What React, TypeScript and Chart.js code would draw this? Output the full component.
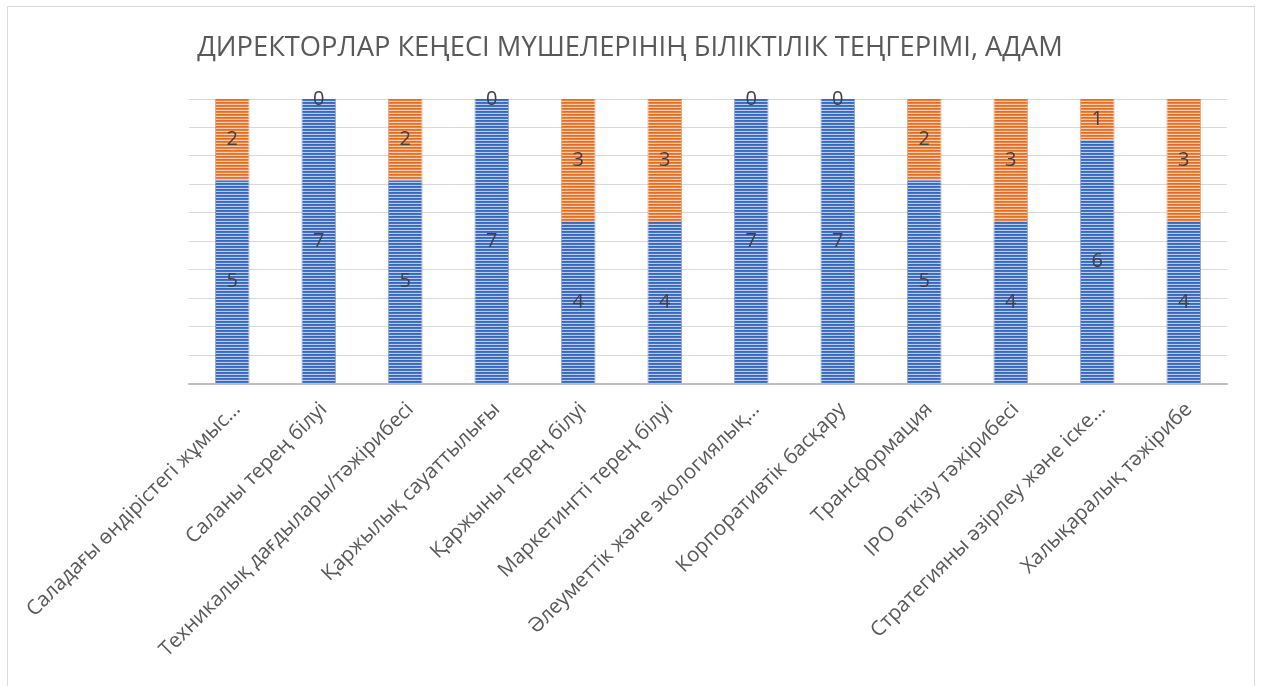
import React, { useEffect, useRef } from "react";
import { Chart, registerables } from "chart.js";

Chart.register(...registerables);

const categories = [
  "Саладағы өндірістегі жұмыс…",
  "Саланы терең білуі",
  "Техникалық дағдылары/тәжірибесі",
  "Қаржылық сауаттылығы",
  "Қаржыны терең білуі",
  "Маркетингті терең білуі",
  "Әлеуметтік және экологиялық…",
  "Корпоративтік басқару",
  "Трансформация",
  "IPO өткізу тәжірибесі",
  "Стратегияны әзірлеу және іске…",
  "Халықаралық тәжірибе",
];
const blueValues = [5, 7, 5, 7, 4, 4, 7, 7, 5, 4, 6, 4];
const orangeValues = [2, 0, 2, 0, 3, 3, 0, 0, 2, 3, 1, 3];
const gridTicks = [0, 0.7, 1.4, 2.1, 2.8, 3.5, 4.2, 4.9, 5.6, 6.3, 7];
const titleText = "ДИРЕКТОРЛАР КЕҢЕСІ МҮШЕЛЕРІНІҢ БІЛІКТІЛІК ТЕҢГЕРІМІ, АДАМ";

const FONT = "'Open Sans', 'Noto Sans', sans-serif";

function makePattern(rows: string[]): CanvasPattern | string {
  const c = document.createElement("canvas");
  c.width = 4;
  c.height = rows.length;
  const g = c.getContext("2d");
  if (!g) return rows[0];
  rows.forEach((col, i) => {
    g.fillStyle = col;
    g.fillRect(0, i, 4, 1);
  });
  const p = g.createPattern(c, "repeat");
  return p || rows[0];
}

const labelPlugin = {
  id: "segLabels",
  afterDatasetsDraw(chart: any) {
    const ctx = chart.ctx;
    ctx.save();
    ctx.font = `20px ${FONT}`;
    ctx.fillStyle = "#404040";
    ctx.textAlign = "center";
    ctx.textBaseline = "middle";
    chart.data.datasets.forEach((ds: any, di: number) => {
      const meta = chart.getDatasetMeta(di);
      meta.data.forEach((el: any, i: number) => {
        const v = ds.data[i];
        const y = (el.y + el.base) / 2;
        ctx.fillText(String(v), el.x, y);
      });
    });
    ctx.restore();
  },
};

const titlePlugin = {
  id: "pageTitle",
  afterDraw(chart: any) {
    const ctx = chart.ctx;
    ctx.save();
    ctx.font = `27.3px ${FONT}`;
    ctx.fillStyle = "#595959";
    ctx.textAlign = "center";
    ctx.textBaseline = "middle";
    ctx.fillText(titleText, 630, 48);
    ctx.restore();
  },
};

export default function App() {
  const ref = useRef<HTMLCanvasElement>(null);
  useEffect(() => {
    if (!ref.current) return;
    const bluePat = makePattern(["#3A68BD", "#4473C6", "#BACDEE"]);
    const orangePat = makePattern(["#E36F25", "#EC8140", "#F9CDAE"]);
    const chart = new Chart(ref.current, {
      type: "bar",
      data: {
        labels: categories,
        datasets: [
          {
            label: "blue",
            data: blueValues,
            backgroundColor: bluePat as any,
            borderColor: "rgba(47,85,151,0.5)",
            borderWidth: { left: 1, right: 1, top: 0, bottom: 0 } as any,
            barPercentage: 0.4,
            categoryPercentage: 1,
          },
          {
            label: "orange",
            data: orangeValues,
            backgroundColor: orangePat as any,
            borderColor: "rgba(197,90,17,0.5)",
            borderWidth: { left: 1, right: 1, top: 0, bottom: 0 } as any,
            barPercentage: 0.4,
            categoryPercentage: 1,
          },
        ],
      },
      options: {
        responsive: false,
        animation: false,
        layout: { padding: { left: 189, right: 34, top: 99, bottom: 18 } },
        plugins: {
          legend: { display: false },
          tooltip: { enabled: false },
          title: { display: false },
        },
        scales: {
          x: {
            stacked: true,
            grid: { display: false, drawTicks: false },
            border: { display: true, color: "#BFBFBF", width: 2 },
            ticks: {
              color: "#595959",
              font: { family: FONT, size: 20.5 },
              maxRotation: 45,
              minRotation: 45,
              autoSkip: false,
              padding: 14,
              labelOffset: 5,
            },
          },
          y: {
            stacked: true,
            min: 0,
            max: 7,
            afterBuildTicks: (scale: any) => {
              scale.ticks = gridTicks.map((v) => ({ value: v }));
            },
            grid: { color: "#D9D9D9", lineWidth: 1, drawTicks: false },
            border: { display: false },
            ticks: { display: false },
          },
        },
      },
      plugins: [labelPlugin, titlePlugin],
    });
    return () => chart.destroy();
  }, []);
  return (
    <div style={{ position: "fixed", left: 0, top: 0, width: 1261, height: 686, background: "#fff" }}>
      <div
        style={{
          position: "absolute",
          left: 7,
          top: 6,
          width: 1248,
          height: 700,
          border: "1px solid #D9D9D9",
          boxSizing: "border-box",
        }}
      />
      <canvas ref={ref} width={1261} height={686} style={{ position: "absolute", left: 0, top: 0 }} />
    </div>
  );
}
